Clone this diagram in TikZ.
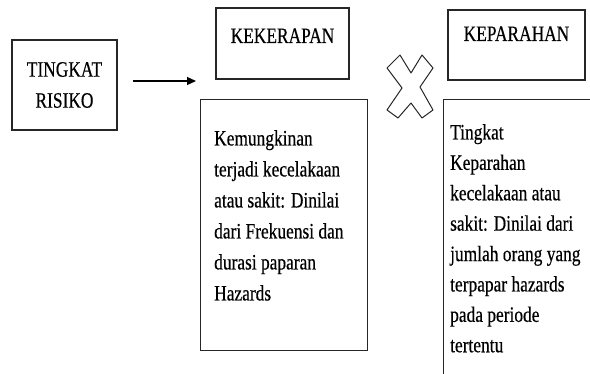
\documentclass[tikz,border=0pt]{standalone}
\usepackage{fontspec}
\setmainfont[FakeStretch=0.79,FakeBold=0.4]{Liberation Serif}
\usetikzlibrary{arrows.meta}
\begin{document}
\begin{tikzpicture}[x=1pt,y=1pt,
  box/.style={draw=black!85, line width=1.3pt, inner sep=0pt},
  title/.style={font=\fontsize{22}{31}\selectfont, inner sep=0pt, align=center},
  lblA/.style={font=\fontsize{22}{31}\selectfont, inner sep=0pt, align=left, anchor=north west},
  lblB/.style={font=\fontsize{22}{30.4}\selectfont, inner sep=0pt, align=left, anchor=north west},
  conn/.style={draw=black, line width=1.2pt, -{Triangle[length=9pt,width=8pt]}},
  crossshape/.style={draw=black!85, line width=1pt, line join=round}
 ]
\useasboundingbox (0,0) rectangle (590,-374);
\clip (0,0) rectangle (590,-374);
% TINGKAT RISIKO
\node[box, title, minimum width=105pt, minimum height=90pt] (risk) at (64.5,-85) {TINGKAT\\RISIKO};
% arrow
\coordinate (a1) at (133,-81);
\coordinate (a2) at (196,-81);
\draw[conn] (a1) -- (a2);
% KEKERAPAN
\node[box, minimum width=133pt, minimum height=71pt] (kek) at (282.5,-43.5) {};
\node[title, anchor=base] (kektxt) at (282.5,-43) {KEKERAPAN};
\node[box, minimum width=167pt, minimum height=251pt, anchor=north west] (d1) at (200,-99) {};
\node[lblA] (d1txt) at (214,-130) {Kemungkinan\\terjadi kecelakaan\\atau sakit: Dinilai\\dari Frekuensi dan\\durasi paparan\\Hazards};
% cross
\draw[crossshape] (400,-55) -- (411,-73) -- (422,-55) -- (433,-68) -- (420,-87) -- (433,-110) -- (422,-118) -- (411,-103) -- (398,-118) -- (387,-110) -- (402,-88) -- (387,-68) -- cycle;
% KEPARAHAN
\node[box, minimum width=137pt, minimum height=70pt] (kep) at (516.5,-45) {};
\node[title, anchor=base] (keptxt) at (516.5,-41) {KEPARAHAN};
\node[box, minimum width=220pt, minimum height=320pt, anchor=north west] (d2) at (443,-99) {};
\node[lblB] (d2txt) at (450,-124) {Tingkat\\Keparahan\\kecelakaan atau\\sakit: Dinilai dari\\jumlah orang yang\\terpapar hazards\\pada periode\\tertentu};
\end{tikzpicture}
\end{document}
